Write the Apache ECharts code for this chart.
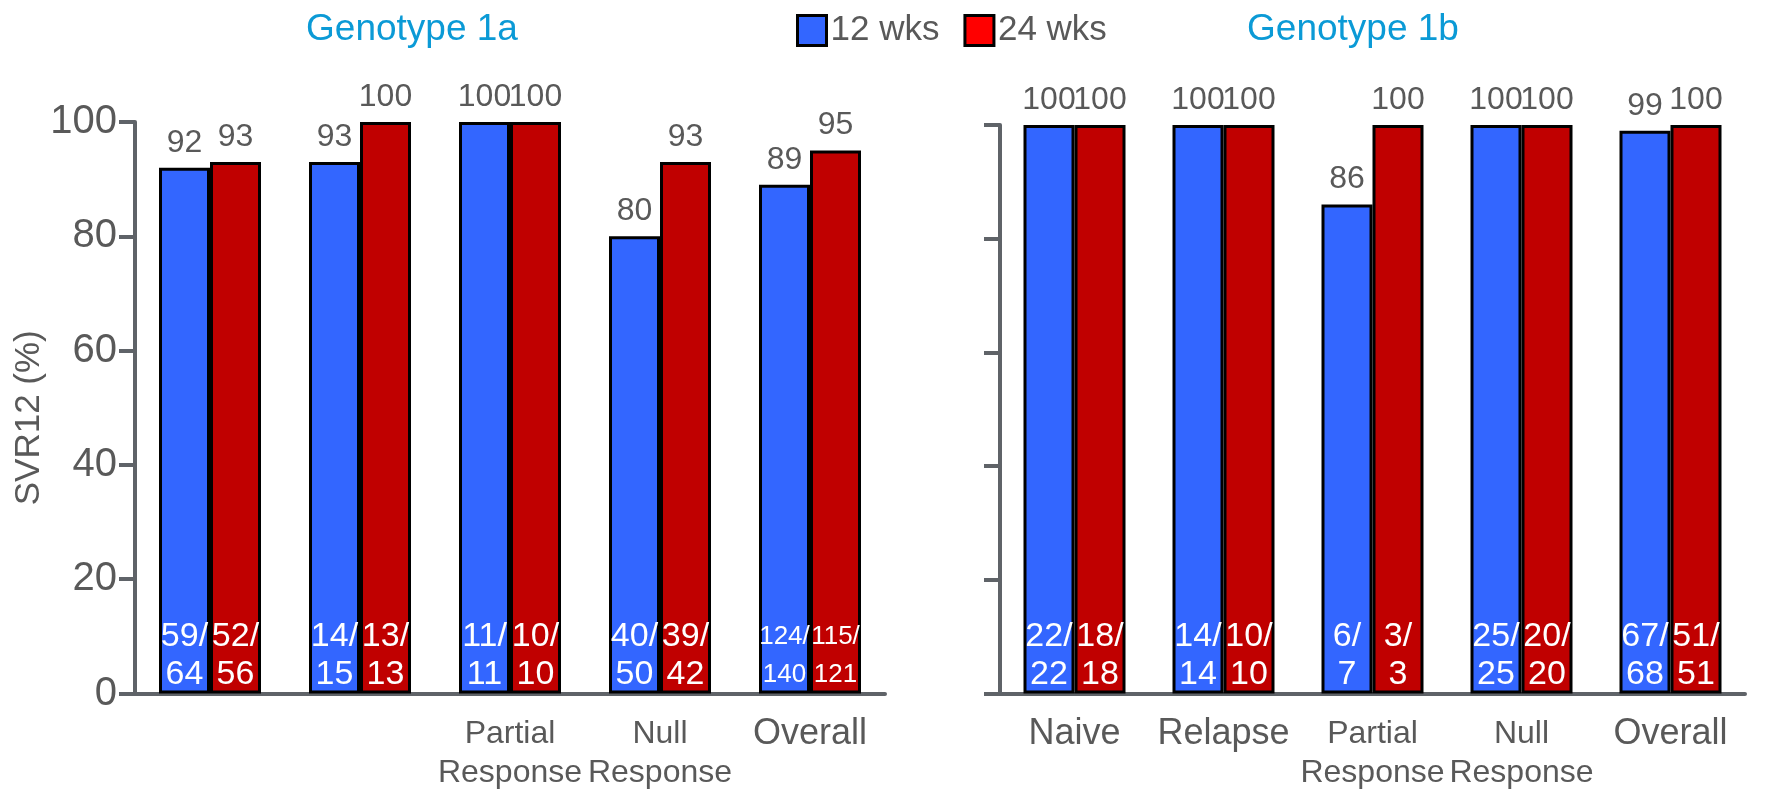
<!DOCTYPE html>
<html>
<head>
<meta charset="utf-8">
<script src="https://cdn.jsdelivr.net/npm/echarts@6/dist/echarts.min.js"></script>
<style>
  html, body { margin: 0; padding: 0; background: #fff; }
  #main { width: 1766px; height: 789px; }
</style>
</head>
<body>
<div id="main"></div>
<script>
// categories (first two of genotype 1a carry no label in the source)
var categories1a = ['', '', 'Partial\nResponse', 'Null\nResponse', 'Overall'];
var categories1b = ['Naive', 'Relapse', 'Partial\nResponse', 'Null\nResponse', 'Overall'];

// SVR12 (%)
var svr12wks1a = [92, 93, 100, 80, 89];
var svr24wks1a = [93, 100, 100, 93, 95];
var svr12wks1b = [100, 100, 86, 100, 99];
var svr24wks1b = [100, 100, 100, 100, 100];

// n/N inside the bars
var n12wks1a = ['59/64', '14/15', '11/11', '40/50', '124/140'];
var n24wks1a = ['52/56', '13/13', '10/10', '39/42', '115/121'];
var n12wks1b = ['22/22', '14/14', '6/7', '25/25', '67/68'];
var n24wks1b = ['18/18', '10/10', '3/3', '20/20', '51/51'];

var yMin = 0, yMax = 100, yStep = 20;

var grey = '#5f6368';
var textGrey = '#595959';
var blue = '#3366ff';
var red = '#c00000';
var font = 'Liberation Sans, Arial';

var chart = echarts.init(document.getElementById('main'));

function catLabel(v) {
  if (v.indexOf('\n') >= 0) {
    return v.split('\n').map(function (s) { return '{s|' + s + '}'; }).join('\n');
  }
  return v ? '{b|' + v + '}' : '';
}

function xAxisFor(idx, cats) {
  return {
    type: 'category',
    gridIndex: idx,
    data: cats,
    axisLine: { lineStyle: { color: grey, width: 4 } },
    axisTick: { length: 15, lineStyle: { color: grey, width: 4 } },
    axisLabel: {
      interval: 0,
      margin: 21,
      formatter: catLabel,
      rich: {
        s: { fontSize: 32, lineHeight: 39, color: textGrey, fontFamily: font },
        b: { fontSize: 36, lineHeight: 40, color: textGrey, fontFamily: font }
      }
    }
  };
}

function yAxisFor(idx, showLabels) {
  return {
    type: 'value',
    gridIndex: idx,
    min: yMin,
    max: yMax,
    interval: yStep,
    splitLine: { show: false },
    axisLine: { show: true, lineStyle: { color: grey, width: 4 } },
    axisTick: { show: true, length: 16, lineStyle: { color: grey, width: 4 } },
    axisLabel: { show: showLabels, fontSize: 40, color: textGrey, margin: 18, fontFamily: font },
    name: showLabels ? 'SVR12 (%)' : '',
    nameLocation: 'middle',
    nameGap: 88,
    nameTextStyle: { fontSize: 35, color: textGrey, fontFamily: font, padding: [0, 20, 0, 0] }
  };
}

// bar with n/N at its foot
function barSeries(name, idx, values, fractions, color, stack) {
  return {
    name: name,
    type: 'bar',
    xAxisIndex: idx,
    yAxisIndex: idx,
    stack: stack,
    barWidth: 51,
    barGap: '0%',
    data: values,
    itemStyle: { color: color, borderColor: '#000', borderWidth: 3 },
    label: {
      show: true,
      position: 'insideBottom',
      distance: 0,
      formatter: function (p) {
        var parts = fractions[p.dataIndex].split('/');
        var k = fractions[p.dataIndex].length > 5 ? 'g' : 'f';
        return '{' + k + '|' + parts[0] + '/}\n{' + k + '|' + parts[1] + '}';
      },
      rich: {
        f: { fontSize: 34, lineHeight: 38, color: '#fff', fontFamily: font },
        g: { fontSize: 26, lineHeight: 38, color: '#fff', fontFamily: font }
      }
    }
  };
}

// zero-height bar stacked on top, only to carry the percentage label
function topLabelSeries(idx, values, stack) {
  return {
    name: stack + '-pct',
    type: 'bar',
    xAxisIndex: idx,
    yAxisIndex: idx,
    stack: stack,
    barWidth: 51,
    barGap: '0%',
    silent: true,
    data: values.map(function () { return 0; }),
    itemStyle: { color: 'transparent', borderWidth: 0 },
    label: {
      show: true,
      position: 'top',
      distance: 9,
      fontSize: 32,
      color: textGrey,
      fontFamily: font,
      formatter: function (p) { return values[p.dataIndex]; }
    }
  };
}

var titleStyle = { color: '#0b9ad6', fontSize: 37, fontWeight: 'normal', fontFamily: font };

var option = {
  animation: false,
  textStyle: { fontFamily: font },
  title: [
    { text: 'Genotype 1a', left: 407, top: 6, textAlign: 'center', textStyle: titleStyle },
    { text: 'Genotype 1b', left: 1348, top: 6, textAlign: 'center', textStyle: titleStyle }
  ],
  legend: {
    left: 796,
    top: 13,
    padding: 0,
    itemWidth: 29,
    itemHeight: 30,
    itemGap: 24,
    selectedMode: false,
    textStyle: { fontSize: 35, color: textGrey, fontFamily: font, padding: [0, 0, 0, -1] },
    data: [
      { name: '12 wks', icon: 'rect', itemStyle: { color: blue, borderColor: '#000', borderWidth: 3 } },
      { name: '24 wks', icon: 'rect', itemStyle: { color: '#ff0000', borderColor: '#000', borderWidth: 3 } }
    ]
  },
  grid: [
    { left: 135, top: 122, width: 750, height: 573 },
    { left: 1000, top: 125, width: 745, height: 571 }
  ],
  xAxis: [xAxisFor(0, categories1a), xAxisFor(1, categories1b)],
  yAxis: [yAxisFor(0, true), yAxisFor(1, false)],
  series: [
    barSeries('12 wks', 0, svr12wks1a, n12wks1a, blue, 'a12'),
    topLabelSeries(0, svr12wks1a, 'a12'),
    barSeries('24 wks', 0, svr24wks1a, n24wks1a, red, 'a24'),
    topLabelSeries(0, svr24wks1a, 'a24'),
    barSeries('12 wks', 1, svr12wks1b, n12wks1b, blue, 'b12'),
    topLabelSeries(1, svr12wks1b, 'b12'),
    barSeries('24 wks', 1, svr24wks1b, n24wks1b, red, 'b24'),
    topLabelSeries(1, svr24wks1b, 'b24')
  ]
};

chart.setOption(option);
</script>
</body>
</html>
